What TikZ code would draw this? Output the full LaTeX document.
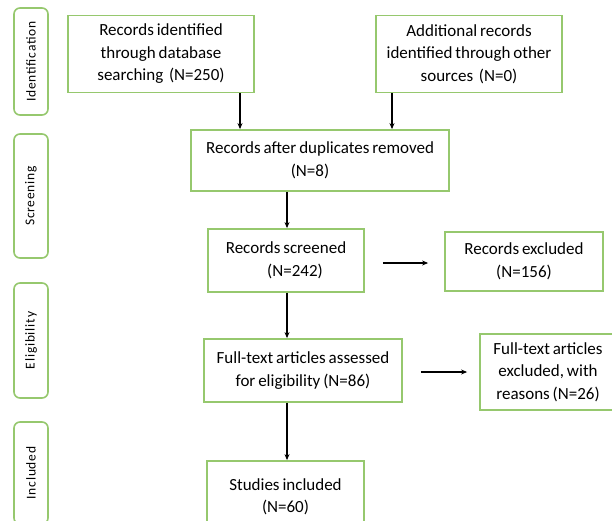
\documentclass[tikz,border=0pt]{standalone}
\usepackage{fontspec}
\setmainfont[WordSpace=0.75]{Carlito}
\newfontfamily\sidefont[LetterSpace=6]{Carlito}
\usetikzlibrary{arrows.meta}
\definecolor{boxgreen}{RGB}{150,200,110}
\tikzset{
  box/.style={draw=boxgreen, line width=1.8pt, fill=white, align=center, inner sep=0pt,
    font=\fontsize{17}{22.5}\selectfont, text=black},
  side/.style={draw=boxgreen, line width=1.6pt, rounded corners=6pt, minimum width=34pt,
    inner sep=0pt, font=\sidefont\fontsize{13.5}{15}\selectfont, text=black},
  arr/.style={draw=black, line width=1.3pt, -{Stealth[length=6pt,width=5pt]}}
}
\begin{document}
\begin{tikzpicture}[x=1pt,y=-1pt]
\useasboundingbox (0,0) rectangle (612,521);
\clip (0,0) rectangle (612,521);
\fill[white] (0,0) rectangle (612,521);
% side labels
\node[side, minimum height=107pt] (sid) at (31,61.5) {\rotatebox{90}{Identification}};
\node[side, minimum height=124pt] (ssc) at (31,196) {\rotatebox{90}{Screening}};
\node[side, minimum height=115pt] (sel) at (31,340.5) {\rotatebox{90}{Eligibility}};
\node[side, minimum height=102pt] (sin) at (31,473) {\rotatebox{90}{Included}};
% boxes
\node[box, minimum width=186pt, minimum height=77pt] (id1) at (161,54)
  {Records identified\\through database\\searching\ \ (N=250)};
\node[box, minimum width=186pt, minimum height=77pt] (id2) at (469,54)
  {Additional records\\identified through other\\sources\ \ (N=0)};
\node[box, minimum width=258pt, minimum height=61pt] (dup) at (320,160.5)
  {Records after duplicates removed\\\hspace*{-20pt}(N=8)};
\node[box, minimum width=156pt, minimum height=63pt] (scr) at (286,260.5)
  {Records screened\\\hspace*{18pt}(N=242)};
\node[box, minimum width=158pt, minimum height=59pt] (exc) at (524,261.5)
  {Records excluded\\(N=156)};
\node[box, minimum width=198pt, minimum height=63pt] (ft) at (303,370.5)
  {Full-text articles assessed\\for eligibility (N=86)};
\node[box, minimum width=136pt, minimum height=76pt] (ftx) at (548,372)
  {Full-text articles\\excluded, with\\reasons (N=26)};
\node[box, minimum width=157pt, minimum height=69pt, text depth=0pt] (stu) at (285.5,495.5)
  {Studies included\\(N=60)};
% connectors
\draw[arr] (id1.south -| 240,0) -- (dup.north -| 240,0);
\draw[arr] (id2.south -| 392,0) -- (dup.north -| 392,0);
\draw[arr] (dup.south -| 287,0) -- (scr.north -| 287,0);
\draw[arr] (scr.south -| 287,0) -- (ft.north -| 287,0);
\draw[arr] (ft.south -| 287,0) -- (stu.north -| 287,0);
\coordinate (a1) at ([xshift=18pt]scr.east |- 0,263);
\coordinate (a2) at ([xshift=-16pt]exc.west |- 0,263);
\draw[arr] (a1) -- (a2);
\coordinate (b1) at ([xshift=18pt]ft.east |- 0,372);
\coordinate (b2) at ([xshift=-12pt]ftx.west |- 0,372);
\draw[arr] (b1) -- (b2);
\end{tikzpicture}
\end{document}
